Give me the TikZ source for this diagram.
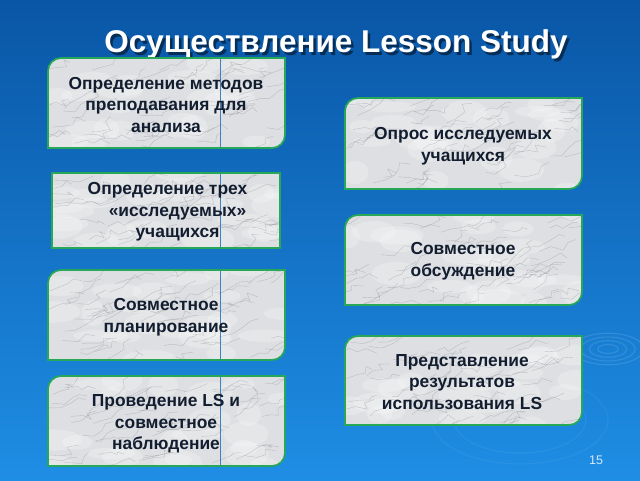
\documentclass[tikz,border=0pt]{standalone}
\usepackage{fontspec}
\setmainfont{Liberation Sans}
\definecolor{bgtop}{RGB}{10,86,166}
\definecolor{bgbot}{RGB}{30,142,228}
\definecolor{bordergreen}{RGB}{38,168,88}
\definecolor{txtc}{RGB}{18,30,48}
\definecolor{vlinec}{RGB}{60,128,198}
\definecolor{marblebase}{RGB}{222,223,226}
\definecolor{veinc}{RGB}{120,122,128}
\newcommand\diagpath[5]{(#1,#2) -- (#1,#4-#5) arc[start angle=180,end angle=90,radius=#5] -- (#3,#4) -- (#3,#2+#5) arc[start angle=0,end angle=-90,radius=#5] -- cycle}
\newcommand\marblebox[6]{%
  \fill[marblebase] \diagpath{#1}{#2}{#3}{#4}{#5};
  \begin{scope}
    \clip \diagpath{#1}{#2}{#3}{#4}{#5};
    \pgfmathsetseed{#6}
    \foreach \k in {1,...,22}{
      \pgfmathsetmacro\px{#1+rnd*(#3-#1)}
      \pgfmathsetmacro\py{#2+rnd*(#4-#2)}
      \fill[white,opacity=.22] (\px,\py) ellipse[x radius={12+rnd*16},y radius={5+rnd*8}];
    }
    \foreach \k in {1,...,55}{
      \pgfmathsetmacro\px{#1-10+rnd*(#3-#1)}
      \pgfmathsetmacro\py{#2-5+rnd*(#4-#2)}
      \draw[vein] (\px,\py) -- ++({5+rnd*9},{rand*4+2}) -- ++({4+rnd*9},{rand*6+2}) -- ++({rand*8+3},{2+rnd*6}) -- ++({4+rnd*8},{rand*5});
    }
  \end{scope}
}
\tikzset{
  vein/.style={veinc,opacity=.35,line width=.4pt,line join=round},
  border/.style={bordergreen,line width=1.7pt},
  sepline/.style={vlinec,line width=.8pt},
  boxtext/.style={text=txtc,font=\bfseries\fontsize{17.4}{21.5}\selectfont,align=center,inner sep=0pt},
  titletext/.style={font=\bfseries\fontsize{31.5}{34}\selectfont,inner sep=0pt,anchor=base},
  ripple/.style={white,opacity=.12,line width=1.1pt}
}
\begin{document}
\begin{tikzpicture}[x=1pt,y=1pt]
\useasboundingbox (0,0) rectangle (640,480);
\shade[top color=bgtop,bottom color=bgbot] (0,0) rectangle (640,480);
% ripples
\foreach \r in {6,11,16,21}{
  \draw[ripple] (608,131) ellipse[x radius={\r*1.7},y radius=\r*0.75];
}
\foreach \r in {60,80}{
  \draw[ripple,opacity=.06] (520,60) ellipse[x radius={\r*1.1},y radius=\r*0.55];
}
% title
\node[titletext,text=black,opacity=.5] (titleshadow) at (338.5,424.5) {Осуществление Lesson Study};
\node[titletext,text=white] (title) at (336,427) {Осуществление Lesson Study};
% boxes
\marblebox{48}{332}{285}{422}{13}{11}
\draw[sepline] (220,332) -- (220,422);
\draw[border] \diagpath{48}{332}{285}{422}{13};

\marblebox{345}{291}{582}{382}{13}{12}
\draw[border] \diagpath{345}{291}{582}{382}{13};

\marblebox{52}{232}{280}{307}{0.01}{13}
\draw[sepline] (220,232) -- (220,307);
\draw[border] \diagpath{52}{232}{280}{307}{0.01};

\marblebox{345}{175}{582}{265}{13}{14}
\draw[border] \diagpath{345}{175}{582}{265}{13};

\marblebox{48}{120}{285}{210}{13}{15}
\draw[sepline] (220,120) -- (220,210);
\draw[border] \diagpath{48}{120}{285}{210}{13};

\marblebox{345}{55}{582}{144}{13}{16}
\draw[border] \diagpath{345}{55}{582}{144}{13};

\marblebox{48}{14}{285}{104}{13}{17}
\draw[sepline] (220,14) -- (220,104);
\draw[border] \diagpath{48}{14}{285}{104}{13};
% texts
\node[boxtext] (t1) at (166,375) {Определение методов\\преподавания для\\анализа};
\node[boxtext] (t2) at (463,334) {Опрос исследуемых\\учащихся};
\node[boxtext] (t3) at (172.5,268) {Определение трех\hspace*{10pt}\\\hspace*{10pt}«исследуемых»\\\hspace*{10pt}учащихся};
\node[boxtext] (t4) at (463,219) {Совместное\\обсуждение};
\node[boxtext] (t5) at (166,163) {Совместное\\планирование};
\node[boxtext] (t6) at (462,98) {Представление\\результатов\\использования LS};
\node[boxtext] (t7) at (166,56) {Проведение LS и\\совместное\\наблюдение};
\node[text={rgb,255:red,215;green,232;blue,250},font=\fontsize{12.5}{14}\selectfont,inner sep=0pt] (pnum) at (596,20) {15};
\end{tikzpicture}
\end{document}
